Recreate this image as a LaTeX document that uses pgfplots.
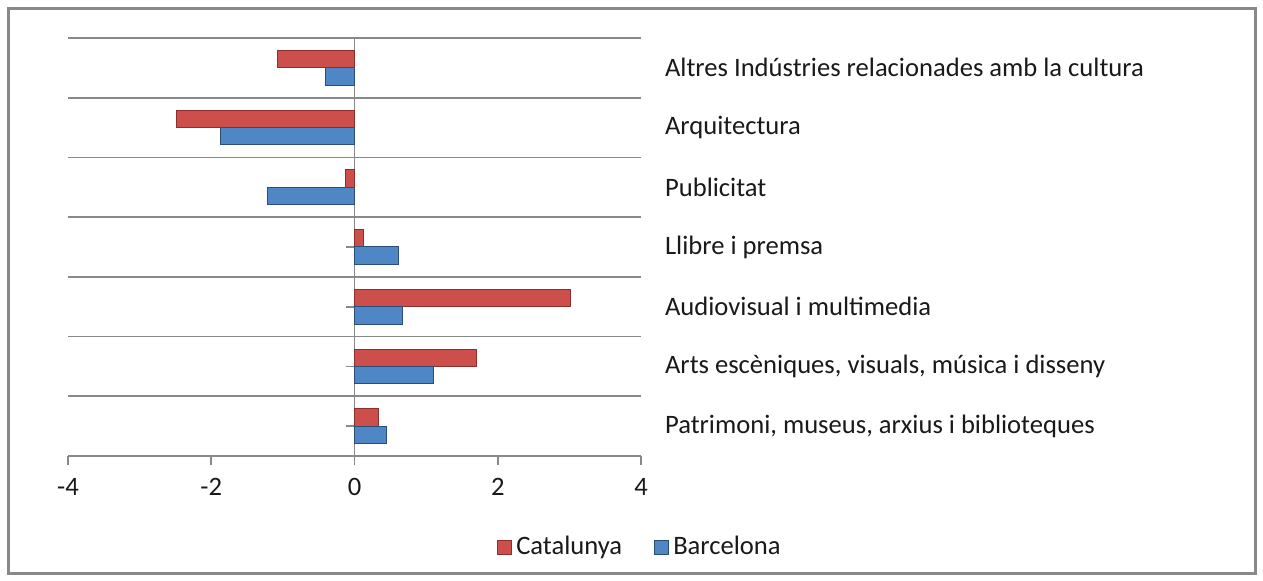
\documentclass[border=0pt]{standalone}
\usepackage{fontspec}
\setmainfont{Carlito}
\usepackage{pgfplots}
\pgfplotsset{compat=1.18}
\definecolor{gridc}{HTML}{898989}
\definecolor{redm}{HTML}{CC4F4C}
\definecolor{redd}{HTML}{8C2F2D}
\definecolor{bluem}{HTML}{4F86C6}
\definecolor{blued}{HTML}{2C4D75}
\begin{document}
\begin{tikzpicture}
\path[use as bounding box] (0,0) rectangle (631.5pt,-290.5pt);
\draw[gridc, line width=1.5pt] (4pt,-4.5pt) rectangle (627.5pt,-287pt);
\begin{axis}[
  at={(34pt,-228pt)}, anchor=south west,
  width=286.5pt, height=209pt, scale only axis,
  xmin=-4, xmax=4, ymin=-0.5, ymax=6.5,
  axis x line=bottom, axis y line=middle,
  axis line style={gridc, line width=0.8pt, -},
  xtick={-4,-2,0,2,4}, xticklabels={-4,-2,0,2,4},
  xtick align=outside, major tick length=4.5pt,
  ytick={0,...,6}, yticklabels={}, ytick align=outside,
  tick style={gridc, line width=0.8pt},
  every tick label/.append style={font=\fontsize{13.3}{15}\selectfont, text=black!90},
  xticklabel style={yshift=-3pt},
  minor ytick={0.5,1.5,...,6.5},
  yminorgrids=true, minor tick length=0pt,
  minor grid style={gridc, line width=0.9pt},
  xbar, bar width=0.29,
  clip=false,
  legend style={at={(1.0,-0.218)}, anchor=center, draw=none, legend columns=2,
    font=\fontsize{13.3}{15}\selectfont, text=black!90, /tikz/every even column/.append style={column sep=14pt}},
  legend image code/.code={\draw[#1] (0pt,-3.5pt) rectangle (7pt,3.5pt);},
]
\addplot[bar shift=0.145, draw=redd, line width=0.5pt, fill=redm] coordinates {
(0.33,0) (1.70,1) (3.02,2) (0.13,3) (-0.12,4) (-2.48,5) (-1.07,6)};
\addplot[bar shift=-0.145, draw=blued, line width=0.5pt, fill=bluem] coordinates {
(0.44,0) (1.10,1) (0.67,2) (0.62,3) (-1.21,4) (-1.87,5) (-0.40,6)};
\legend{Catalunya, Barcelona}
\foreach \i/\t in {0/{Patrimoni, museus, arxius i biblioteques},1/{Arts escèniques, visuals, música i disseny},2/{Audiovisual i multimedia},3/{Llibre i premsa},4/{Publicitat},5/{Arquitectura},6/{Altres Indústries relacionades amb la cultura}}{
  \edef\temp{\noexpand\node[anchor=west, text=black!90, font=\noexpand\fontsize{13.3}{15}\noexpand\selectfont] at (axis cs:4,\i) [xshift=8.5pt] {\unexpanded\expandafter{\t}};}
  \temp
}
\end{axis}
\end{tikzpicture}
\end{document}
